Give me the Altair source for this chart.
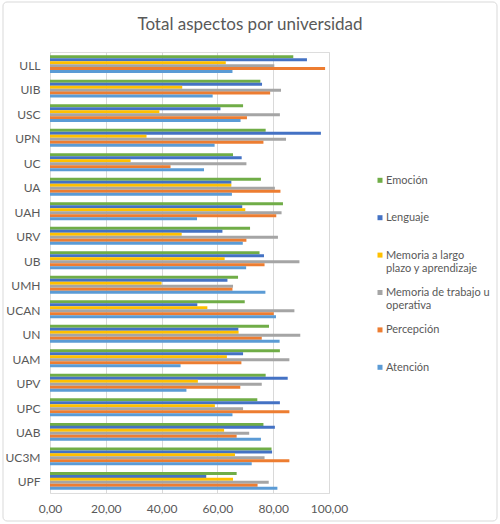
import altair as alt
import pandas as pd

titulo = "Total aspectos por universidad"
universidades = ["ULL", "UIB", "USC", "UPN", "UC", "UA", "UAH", "URV", "UB", "UMH",
                 "UCAN", "UN", "UAM", "UPV", "UPC", "UAB", "UC3M", "UPF"]
series = ["Emoción", "Lenguaje", "Memoria a largo plazo y aprendizaje",
          "Memoria de trabajo u operativa", "Percepción", "Atención"]
etiquetas = ["Emoción", "Lenguaje", "Memoria a largo\nplazo y aprendizaje",
             "Memoria de trabajo u\noperativa", "Percepción", "Atención"]
colores = ["#70AD47", "#4472C4", "#FFC000", "#A5A5A5", "#ED7D31", "#5B9BD5"]

emocion = [87.2, 75.4, 69.2, 77.3, 65.6, 75.6, 83.5, 71.7, 75.1, 67.4,
           69.8, 78.5, 82.4, 77.3, 74.3, 76.5, 79.4, 66.9]
lenguaje = [92.1, 76.0, 61.1, 97.1, 68.7, 65.0, 68.9, 61.8, 76.7, 63.6,
            52.8, 67.5, 69.2, 85.2, 82.4, 80.6, 79.6, 56.0]
memoria_largo = [63.0, 47.4, 39.2, 34.6, 28.9, 65.0, 70.0, 47.2, 62.6, 40.0,
                 56.4, 67.6, 63.4, 53.0, 59.1, 62.4, 66.3, 65.6]
memoria_trabajo = [80.4, 82.8, 82.4, 84.6, 70.4, 80.6, 83.0, 81.7, 89.4, 65.6,
                   87.6, 89.7, 85.8, 75.9, 69.2, 71.4, 76.9, 78.4]
percepcion = [98.6, 78.9, 70.6, 76.5, 43.2, 82.6, 81.1, 70.4, 76.9, 65.4,
              80.2, 75.9, 68.6, 68.2, 85.8, 66.9, 85.8, 74.4]
atencion = [65.4, 58.3, 68.3, 59.0, 55.2, 65.2, 52.7, 69.1, 70.3, 77.2,
            81.0, 82.3, 46.8, 48.9, 65.4, 75.6, 72.3, 81.5]

valores = [emocion, lenguaje, memoria_largo, memoria_trabajo, percepcion, atencion]
rows = []
for s, vals in zip(series, valores):
    for u, v in zip(universidades, vals):
        rows.append({"Universidad": u, "Serie": s, "Valor": v})
df = pd.DataFrame(rows)
df_leg = pd.DataFrame({"Serie": series, "Etiqueta": etiquetas,
                       "idx": list(range(len(series)))})
df_tit = pd.DataFrame({"t": [titulo]})

FONT = "Lato"
GREY = "#595959"
color_enc = alt.Color("Serie:N", sort=series,
                      scale=alt.Scale(domain=series, range=colores), legend=None)

bars = alt.Chart(df).mark_bar(size=3).encode(
    y=alt.Y("Universidad:N", sort=universidades,
            scale=alt.Scale(paddingInner=0.27, paddingOuter=0.13),
            axis=alt.Axis(title=None, ticks=False, domain=False, labelPadding=10,
                          labelOffset=1.5,
                          labelFontSize=12, labelColor=GREY, labelFont=FONT)),
    yOffset=alt.YOffset("Serie:N", sort=series),
    x=alt.X("Valor:Q", scale=alt.Scale(domain=[0, 100], nice=False),
            axis=alt.Axis(title=None, values=[0, 20, 40, 60, 80, 100],
                          labelExpr="replace(format(datum.value, '.2f'), '.', ',')",
                          ticks=False, domain=False, grid=True, gridColor="#D9D9D9",
                          labelFlush=False, labelOverlap=False,
                          labelFontSize=12, labelColor=GREY, labelFont=FONT,
                          labelPadding=10)),
    color=color_enc,
)

leg_y = alt.Y("idx:Q", scale=alt.Scale(domain=[0, 5], range=[128.3, 315.3]), axis=None)

leg_sym = alt.Chart(df_leg).mark_square(size=25, opacity=1).encode(
    x=alt.value(330), y=leg_y, color=color_enc)

leg_txt = alt.Chart(df_leg).mark_text(align="left", baseline="top", dy=-5.5,
                                      lineBreak="\n", font=FONT, fontSize=11,
                                      color=GREY, lineHeight=13).encode(
    x=alt.value(336), y=leg_y, text="Etiqueta:N")

title_txt = alt.Chart(df_tit).mark_text(align="center", baseline="middle",
                                        font=FONT, fontSize=17, color=GREY).encode(
    x=alt.value(200), y=alt.value(-27), text="t:N")

frame = alt.Chart(df_tit).mark_rect(filled=False, stroke="#D9D9D9", strokeWidth=1,
                                    cornerRadius=4).encode(
    x=alt.value(-47), x2=alt.value(447), y=alt.value(-50), y2=alt.value(469))

chart = alt.layer(frame, bars, leg_sym, leg_txt, title_txt).resolve_scale(
    y="independent"
).properties(
    width=279, height=441,
    autosize=alt.AutoSizeParams(type="none"),
    padding={"left": 50, "top": 52, "right": 171, "bottom": 31},
).configure_view(stroke=None).configure(background="white")

chart.save("out.html", embed_options={"renderer": "svg", "actions": False})
